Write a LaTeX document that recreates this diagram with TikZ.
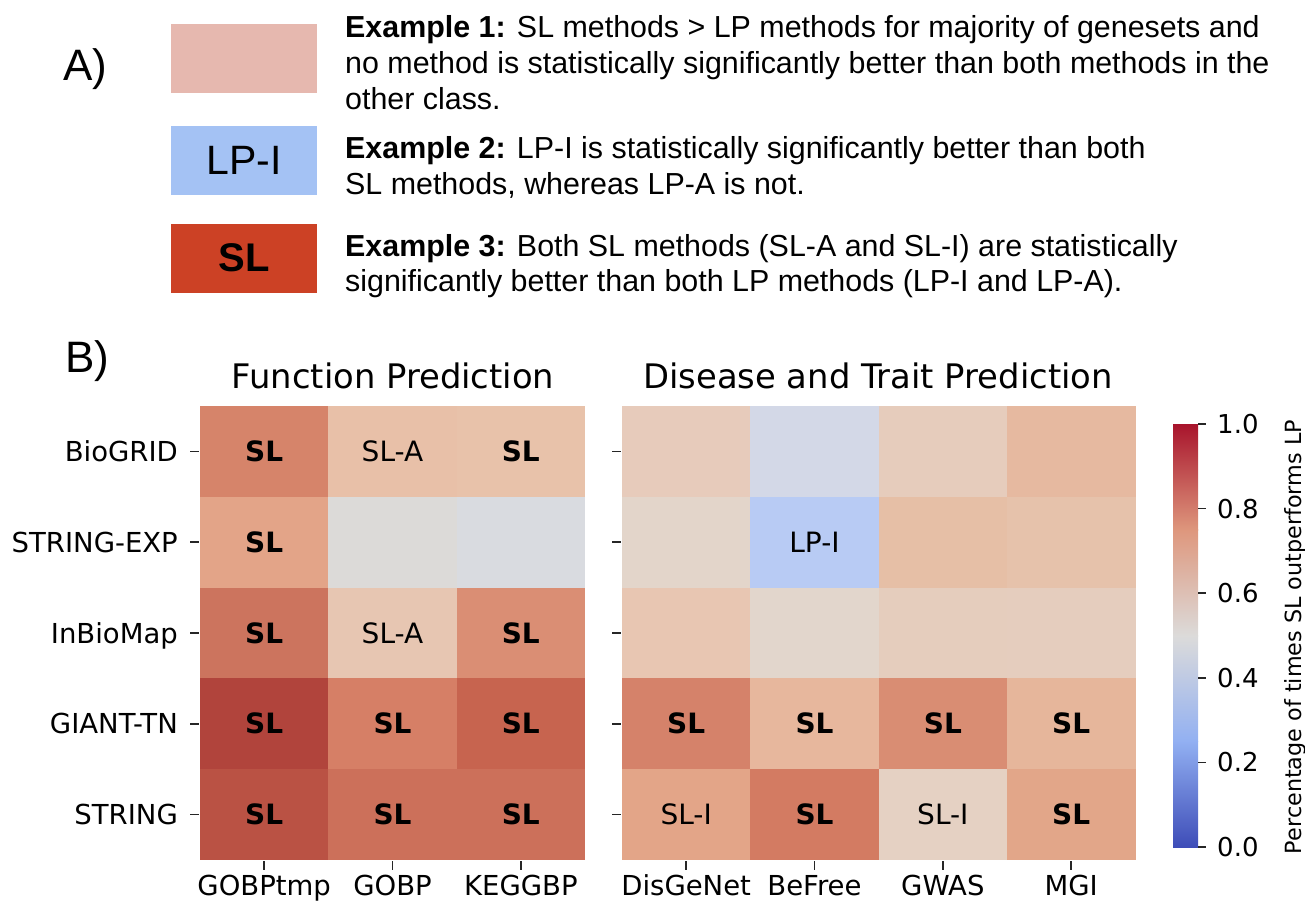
\documentclass[tikz,border=0pt]{standalone}
\usepackage{fontspec}
\setmainfont{Liberation Sans}
\newfontfamily\dvs{DejaVu Sans}
\definecolor{boxone}{HTML}{E6B8AF}
\definecolor{boxtwo}{HTML}{A4C2F4}
\definecolor{boxthree}{HTML}{CC4125}
\definecolor{cbzero}{HTML}{3E4DB8}
\definecolor{cbone}{HTML}{92B0F2}
\definecolor{cbtwo}{HTML}{DCDBDA}
\definecolor{cbthree}{HTML}{DE977D}
\definecolor{cbfour}{HTML}{A8142C}
\begin{document}
\begin{tikzpicture}[x=1pt,y=-1pt,
  extext/.style={anchor=base west, inner sep=0, font=\fontsize{30.4}{34}\selectfont},
  panel/.style={anchor=base west, inner sep=0, font=\fontsize{44}{50}\selectfont},
  legbox/.style={minimum width=146pt, minimum height=69pt, inner sep=0, font=\fontsize{41}{45}\selectfont},
  ann/.style={anchor=base, inner sep=0, font=\dvs\fontsize{28}{30}\selectfont},
  annb/.style={anchor=base, inner sep=0, font=\dvs\bfseries\fontsize{28}{30}\selectfont},
  ticklab/.style={inner sep=0, font=\dvs\fontsize{27.5}{30}\selectfont},
  cblab/.style={inner sep=0, font=\dvs\fontsize{26}{30}\selectfont},
  htitle/.style={anchor=base, inner sep=0, font=\dvs\fontsize{33.8}{36}\selectfont},
  tickline/.style={line width=1.6pt, black!85},
]
\useasboundingbox (0,0) rectangle (1305,903);

% ---------------- Part A ----------------
\node[panel] (pa) at (63,80) {A)};
\node[legbox, fill=boxone] (box1) at (244,58.5) {};
\node[legbox, fill=boxtwo] (box2) at (244,160.5) {LP-I};
\node[legbox, fill=boxthree, font=\bfseries\fontsize{40}{45}\selectfont] (box3) at (244,258) {SL};

\node[extext] (e1a) at (345,37) {\textbf{Example 1:} SL methods > LP methods for majority of genesets and};
\node[extext] (e1b) at (345,73) {no method is statistically significantly better than both methods in the};
\node[extext] (e1c) at (345,109) {other class.};
\node[extext] (e2a) at (345,158) {\textbf{Example 2:} LP-I is statistically significantly better than both};
\node[extext] (e2b) at (345,194) {SL methods, whereas LP-A is not.};
\node[extext] (e3a) at (345,256) {\textbf{Example 3:} Both SL methods (SL-A and SL-I) are statistically};
\node[extext] (e3b) at (345,291) {significantly better than both LP methods (LP-I and LP-A).};

% ---------------- Part B ----------------
\node[panel] (pb) at (65,372) {B)};
\node[htitle] (t1) at (393,388) {Function Prediction};
\node[htitle] (t2) at (878,388) {Disease and Trait Prediction};

% left heatmap
\foreach \r/\c/\hc/\t/\s in {
  0/0/D6846A/SL/annb, 0/1/E8C0A8/SL-A/ann, 0/2/E8C2AA/SL/annb,
  1/0/E3A488/SL/annb, 1/1/DCDAD8//ann, 1/2/D9DBE0//ann,
  2/0/CC745E/SL/annb, 2/1/E7C6B2/SL-A/ann, 2/2/DA8E74/SL/annb,
  3/0/B1443C/SL/annb, 3/1/D67F66/SL/annb, 3/2/C7644F/SL/annb,
  4/0/BA5244/SL/annb, 4/1/CC705A/SL/annb, 4/2/CC705A/SL/annb}{
  \definecolor{cellc}{HTML}{\hc}
  \fill[cellc] ({200+128.33*\c},{406+90.8*\r}) rectangle ++(128.6,91.1);
  \node[\s] (L\r\c) at ({264.17+128.33*\c},{461.5+90.8*\r}) {\t};
}
% right heatmap
\foreach \r/\c/\hc/\t/\s in {
  0/0/E7CBBB//ann, 0/1/D3D8E7//ann, 0/2/E6CCBC//ann, 0/3/E6B9A0//ann,
  1/0/E3D5CA//ann, 1/1/B8CBF4/LP-I/ann, 1/2/E6BFA6//ann, 1/3/E6C2AB//ann,
  2/0/E8C6B2//ann, 2/1/E2D6CC//ann, 2/2/E5CDBD//ann, 2/3/E5CDBE//ann,
  3/0/D5826A/SL/annb, 3/1/E7B79D/SL/annb, 3/2/D98D73/SL/annb, 3/3/E6B69B/SL/annb,
  4/0/E3A588/SL-I/ann, 4/1/D37B62/SL/annb, 4/2/E5D1C3/SL-I/ann, 4/3/E2A689/SL/annb}{
  \definecolor{cellc}{HTML}{\hc}
  \fill[cellc] ({622+128.33*\c},{406+90.8*\r}) rectangle ++(128.6,91.1);
  \node[\s] (R\r\c) at ({686.17+128.33*\c},{461.5+90.8*\r}) {\t};
}

% row ticks and labels
\foreach \r/\t in {0/BioGRID,1/STRING-EXP,2/InBioMap,3/GIANT-TN,4/STRING}{
  \draw[tickline] (190,{451.4+90.8*\r}) -- (199,{451.4+90.8*\r});
  \draw[tickline] (612,{451.4+90.8*\r}) -- (621,{451.4+90.8*\r});
  \node[ticklab, anchor=base east] (row\r) at (178,{461.4+90.8*\r}) {\t};
}
% column ticks and labels
\foreach \c/\t in {0/GOBPtmp,1/GOBP,2/KEGGBP}{
  \draw[tickline] ({264.17+128.33*\c},861) -- ({264.17+128.33*\c},870);
  \node[ticklab, anchor=base] (colL\c) at ({264.17+128.33*\c},895) {\t};
}
\foreach \c/\t in {0/DisGeNet,1/BeFree,2/GWAS,3/MGI}{
  \draw[tickline] ({686.17+128.33*\c},861) -- ({686.17+128.33*\c},870);
  \node[ticklab, anchor=base] (colR\c) at ({686.17+128.33*\c},895) {\t};
}

% colour bar
\shade[top color=cbone, bottom color=cbzero] (1173,847) rectangle (1198,741.25);
\shade[top color=cbtwo, bottom color=cbone] (1173,741.75) rectangle (1198,635.5);
\shade[top color=cbthree, bottom color=cbtwo] (1173,636) rectangle (1198,529.75);
\shade[top color=cbfour, bottom color=cbthree] (1173,530.25) rectangle (1198,424);
\foreach \v/\t in {0/0.0,1/0.2,2/0.4,3/0.6,4/0.8,5/1.0}{
  \draw[tickline] (1198,{847-84.6*\v}) -- (1206,{847-84.6*\v});
  \node[cblab, anchor=base west] (cb\v) at (1217,{856.5-84.6*\v}) {\t};
}
\node[inner sep=0, rotate=90, font=\dvs\fontsize{22.3}{24}\selectfont] (cblabel) at (1295,637) {Percentage of times SL outperforms LP};
\end{tikzpicture}
\end{document}
